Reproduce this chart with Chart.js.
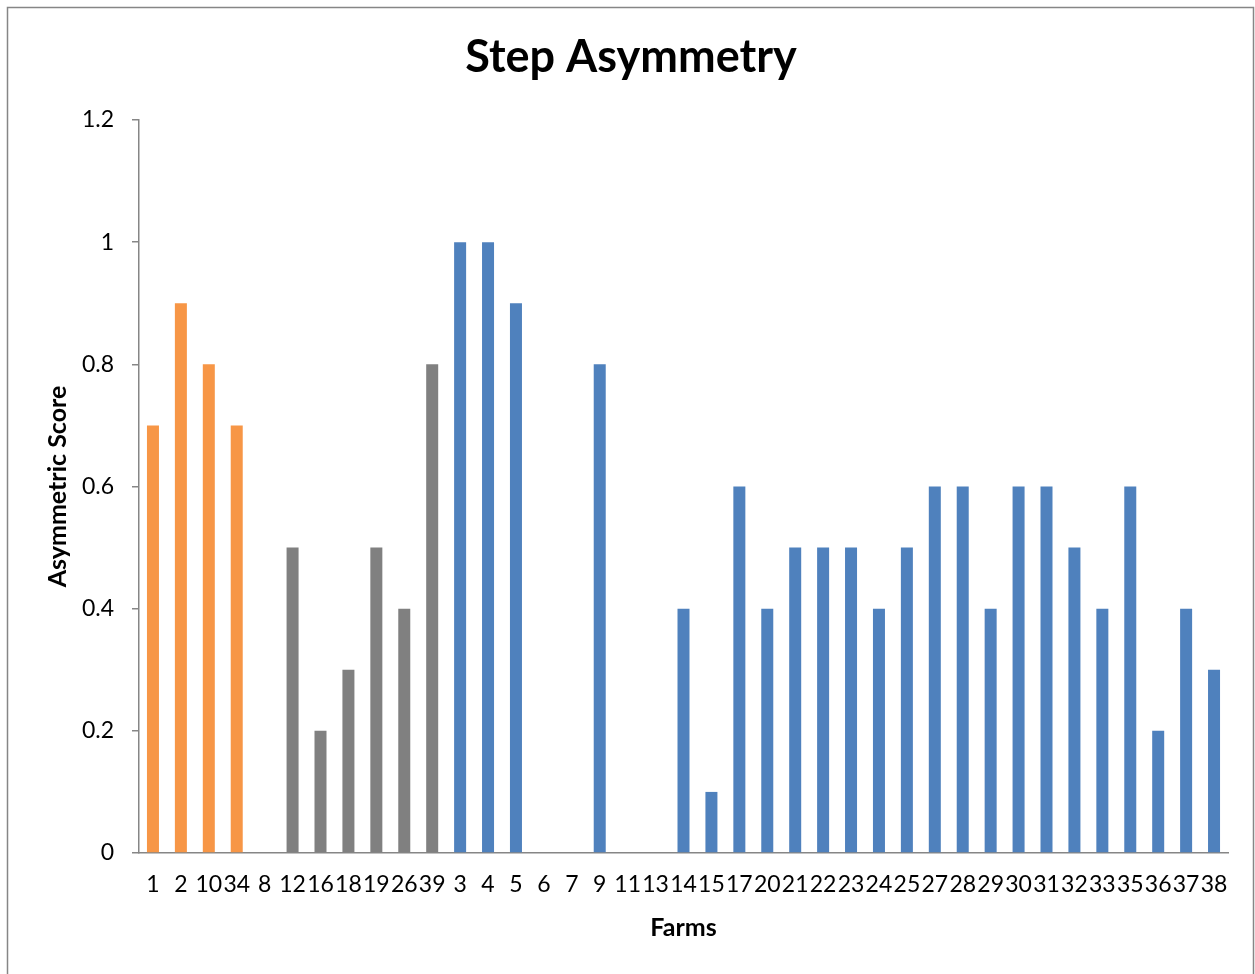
<!DOCTYPE html>
<html lang="en">
<head>
  <meta charset="UTF-8">
  <title>Step Asymmetry</title>
  <script src="https://cdn.jsdelivr.net/npm/chart.js"></script>
  <style>
    html, body {
      margin: 0;
      padding: 0;
      background: #ffffff;
    }
    #wrap {
      width: 1255px;
      height: 974px;
      position: relative;
    }
  </style>
</head>
<body>
  <div id="wrap">
    <canvas id="stepChart"></canvas>
  </div>

  <script>
    // farms in the order they appear on the x axis
    const farms = ["1", "2", "10", "34", "8", "12", "16", "18", "19", "26", "39",
      "3", "4", "5", "6", "7", "9", "11", "13", "14", "15", "17", "20", "21",
      "22", "23", "24", "25", "27", "28", "29", "30", "31", "32", "33", "35",
      "36", "37", "38"];
    const scores = [0.7, 0.9, 0.8, 0.7, 0, 0.5, 0.2, 0.3, 0.5, 0.4, 0.8,
      1, 1, 0.9, 0, 0, 0.8, 0, 0, 0.4, 0.1, 0.6, 0.4, 0.5,
      0.5, 0.5, 0.4, 0.5, 0.6, 0.6, 0.4, 0.6, 0.6, 0.5, 0.4, 0.6,
      0.2, 0.4, 0.3];
    // group of each farm (decides bar colour)
    const groups = ["a", "a", "a", "a", "b", "b", "b", "b", "b", "b", "b",
      "c", "c", "c", "c", "c", "c", "c", "c", "c", "c", "c", "c", "c",
      "c", "c", "c", "c", "c", "c", "c", "c", "c", "c", "c", "c",
      "c", "c", "c"];
    const yTicks = [0, 0.2, 0.4, 0.6, 0.8, 1, 1.2];

    const groupColors = { a: "#F79646", b: "#808080", c: "#4F81BD" };
    const fontFamily = "Lato, 'Liberation Sans', sans-serif";

    // white background + outer frame like the spreadsheet chart box
    const frame = {
      id: "frame",
      beforeDraw(chart) {
        const ctx = chart.ctx;
        ctx.save();
        ctx.fillStyle = "#ffffff";
        ctx.fillRect(0, 0, chart.width, chart.height);
        ctx.strokeStyle = "#868686";
        ctx.lineWidth = 1.5;
        ctx.strokeRect(7.5, 7.5, 1246, 1000);
        ctx.restore();
      }
    };

    new Chart(document.getElementById("stepChart"), {
      type: "bar",
      data: {
        labels: farms,
        datasets: [{
          label: "Asymmetric Score",
          data: scores,
          backgroundColor: groups.map(g => groupColors[g]),
          categoryPercentage: 1,
          barPercentage: 0.43
        }]
      },
      options: {
        responsive: true,
        maintainAspectRatio: false,
        animation: false,
        layout: {
          padding: { left: 34, right: 27, top: 0, bottom: 0 }
        },
        plugins: {
          legend: { display: false },
          tooltip: { enabled: false },
          title: {
            display: true,
            text: "Step Asymmetry",
            color: "#000000",
            font: { family: fontFamily, size: 45, weight: "bold", lineHeight: 1.2 },
            padding: { top: 30, bottom: 36 }
          }
        },
        scales: {
          x: {
            grid: { display: false },
            border: { color: "#868686", width: 1.5 },
            ticks: {
              color: "#000000",
              autoSkip: false,
              maxRotation: 0,
              minRotation: 0,
              padding: 10,
              font: { family: fontFamily, size: 23 }
            },
            title: {
              display: true,
              text: "Farms",
              color: "#000000",
              font: { family: fontFamily, size: 25, weight: "bold", lineHeight: 1.2 },
              padding: { top: 0, bottom: 31 }
            },
            afterFit: s => { s.height = 121; }
          },
          y: {
            min: 0,
            max: 1.2,
            afterBuildTicks: s => { s.ticks = yTicks.map(v => ({ value: v })); },
            grid: {
              drawOnChartArea: false,
              color: "#868686",
              lineWidth: 1.5,
              tickLength: 7
            },
            border: { color: "#868686", width: 1.5 },
            ticks: {
              color: "#000000",
              padding: 18,
              font: { family: fontFamily, size: 23 },
              callback: v => String(Math.round(v * 10) / 10)
            },
            title: {
              display: true,
              text: "Asymmetric Score",
              color: "#000000",
              font: { family: fontFamily, size: 25, weight: "bold", lineHeight: 1.2 },
              padding: { top: 9, bottom: 0 }
            },
            afterFit: s => { s.width = 105; }
          }
        }
      },
      plugins: [frame]
    });
  </script>
</body>
</html>
